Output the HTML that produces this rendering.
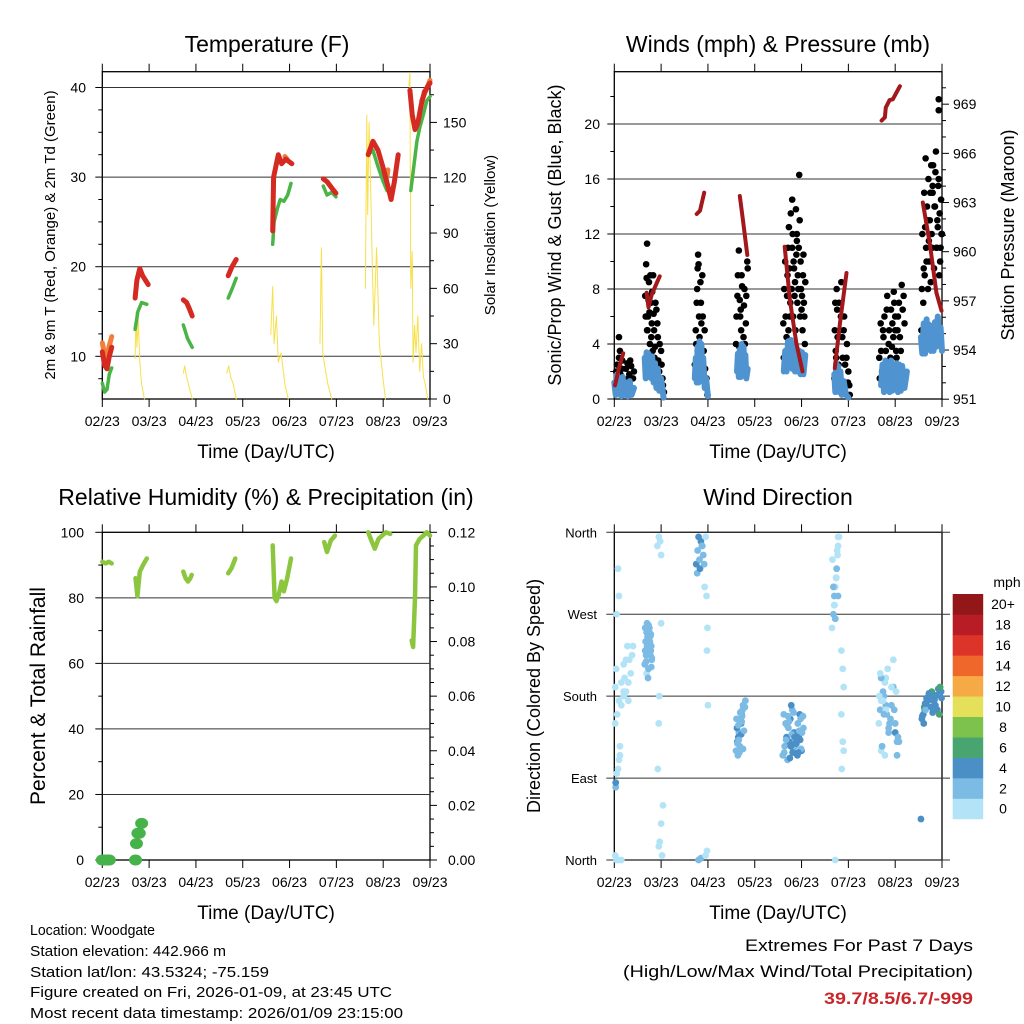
<!DOCTYPE html>
<html><head><meta charset="utf-8"><style>
html,body{margin:0;padding:0;background:#fff}
svg{display:block;font-family:"Liberation Sans",sans-serif}
</style></head><body>
<svg id="c" width="1024" height="1024" viewBox="0 0 1024 1024" xmlns="http://www.w3.org/2000/svg">
<rect width="1024" height="1024" fill="#fff"/>
<text x="267" y="52" font-size="23" text-anchor="middle">Temperature (F)</text>
<text x="778" y="52" font-size="23" text-anchor="middle">Winds (mph) &amp; Pressure (mb)</text>
<text x="266" y="505" font-size="23" text-anchor="middle">Relative Humidity (%) &amp; Precipitation (in)</text>
<text x="778" y="505" font-size="23" text-anchor="middle">Wind Direction</text>
<text x="266" y="458" font-size="19" text-anchor="middle">Time (Day/UTC)</text>
<text x="778" y="458" font-size="19" text-anchor="middle">Time (Day/UTC)</text>
<text x="266" y="919" font-size="19" text-anchor="middle">Time (Day/UTC)</text>
<text x="778" y="919" font-size="19" text-anchor="middle">Time (Day/UTC)</text>
<text transform="translate(55,235) rotate(-90)" font-size="15" text-anchor="middle">2m &amp; 9m T (Red, Orange) &amp; 2m Td (Green)</text>
<text transform="translate(495,235) rotate(-90)" font-size="15" text-anchor="middle">Solar Insolation (Yellow)</text>
<text transform="translate(561,235) rotate(-90)" font-size="18" text-anchor="middle">Sonic/Prop Wind &amp; Gust (Blue, Black)</text>
<text transform="translate(1014,235) rotate(-90)" font-size="18" text-anchor="middle">Station Pressure (Maroon)</text>
<text transform="translate(45,696) rotate(-90)" font-size="21" text-anchor="middle">Percent &amp; Total Rainfall</text>
<text transform="translate(540,696) rotate(-90)" font-size="18" text-anchor="middle">Direction (Colored By Speed)</text>
<g font-size="15">
<text x="30" y="935" textLength="125" lengthAdjust="spacingAndGlyphs">Location: Woodgate</text>
<text x="30" y="956" textLength="196" lengthAdjust="spacingAndGlyphs">Station elevation: 442.966 m</text>
<text x="30" y="977" textLength="239" lengthAdjust="spacingAndGlyphs">Station lat/lon: 43.5324; -75.159</text>
<text x="30" y="997" textLength="362" lengthAdjust="spacingAndGlyphs">Figure created on Fri, 2026-01-09, at 23:45 UTC</text>
<text x="30" y="1018" textLength="373" lengthAdjust="spacingAndGlyphs">Most recent data timestamp: 2026/01/09 23:15:00</text>
</g>
<text x="973" y="951" font-size="17" text-anchor="end" textLength="228" lengthAdjust="spacingAndGlyphs">Extremes For Past 7 Days</text>
<text x="973" y="977" font-size="17" text-anchor="end" textLength="350" lengthAdjust="spacingAndGlyphs">(High/Low/Max Wind/Total Precipitation)</text>
<text x="973" y="1004" font-size="17" font-weight="bold" fill="#c8262b" text-anchor="end" textLength="149" lengthAdjust="spacingAndGlyphs">39.7/8.5/6.7/-999</text>
</svg>
<script>
// ---------- data (t = days since 02/23 00Z) ----------
const dayLabels=["02/23","03/23","04/23","05/23","06/23","07/23","08/23","09/23"];
const tempTicks=[10,20,30,40];
const solarTicks=[0,30,60,90,120,150];
const windTicks=[0,4,8,12,16,20];
const presTicks=[951,954,957,960,963,966,969];
const rhTicks=[0,20,40,60,80,100];
const rainTicks=["0.00","0.02","0.04","0.06","0.08","0.10","0.12"];
const dirLabels=["North","East","South","West","North"];
const speedLabels=["0","2","4","6","8","10","12","14","16","18","20+"];

const t2mSegs=[
 [[0,10.5],[0.05,9],[0.1,8.6],[0.15,10],[0.2,11]],
 [[0.7,16.5],[0.74,18.5],[0.8,19.8],[0.86,19],[0.92,18.5],[0.98,18]],
 [[1.73,16.3],[1.8,16],[1.86,15.3],[1.92,14.5]],
 [[2.69,19],[2.77,20],[2.86,20.8]],
 [[3.64,24],[3.66,30],[3.7,31],[3.76,32.5],[3.83,31.5],[3.92,32],[4.05,31.5]],
 [[4.72,29.8],[4.8,29.5],[4.9,28.8],[4.99,28.2]],
 [[5.68,32.5],[5.78,34],[5.89,33],[6.0,31],[6.1,29],[6.17,27.5],[6.24,29.5],[6.32,32.5]],
 [[6.57,39.7],[6.62,37],[6.68,35.3],[6.74,36],[6.81,38],[6.88,39.5],[7.0,40.5]]
];
const t9mSegs=[
 [[0,11.5],[0.08,9.5],[0.14,11],[0.2,12.2]],
 [[6.82,38.5],[6.9,39.5],[7.0,40.8]],
 [[6.08,30],[6.1,30.8]],
 [[3.9,32.3],[3.95,32]]
];
const tdSegs=[
 [[0,7],[0.05,6],[0.1,6.3],[0.15,8],[0.2,8.7]],
 [[0.7,13],[0.76,15],[0.84,16],[0.95,15.8]],
 [[1.73,13.5],[1.82,12],[1.92,11]],
 [[2.69,16.5],[2.77,17.5],[2.86,18.7]],
 [[3.64,22.5],[3.67,25],[3.74,26.5],[3.8,27.5],[3.88,27.3],[3.96,28],[4.03,29.3]],
 [[4.72,29],[4.8,28],[4.9,28.3],[4.99,27.8]],
 [[5.68,32.5],[5.78,33],[5.9,31],[6.0,29.5],[6.08,28.5]],
 [[6.59,28.5],[6.65,31],[6.72,34],[6.78,35.5],[6.86,37],[6.93,38.5],[7.0,39]]
];
const solarSegs=[
 [[0.7,22],[0.72,47],[0.74,28],[0.77,43],[0.8,20],[0.84,8],[0.9,0]],
 [[1.73,14],[1.76,18],[1.8,12],[1.86,6],[1.92,0]],
 [[2.66,14],[2.7,18],[2.74,12],[2.8,8],[2.86,0]],
 [[3.6,35],[3.64,61],[3.67,30],[3.72,45],[3.76,20],[3.82,25],[3.9,8],[3.97,0]],
 [[4.65,30],[4.68,82],[4.71,25],[4.75,18],[4.82,8],[4.9,0]],
 [[5.62,60],[5.65,154],[5.67,100],[5.7,150],[5.73,120],[5.77,70],[5.8,40],[5.86,82],[5.92,30],[6.0,10],[6.05,0]],
 [[6.55,170],[6.57,177],[6.59,60],[6.62,80],[6.64,20],[6.67,40],[6.7,25],[6.74,45],[6.78,15],[6.82,30],[6.86,12],[6.9,8],[6.95,0]]
];
const presSegs=[
 [[0.015,951.85],[0.1,952.9],[0.19,953.8]],
 [[0.69,957.5],[0.73,956.6],[0.8,957.4],[0.97,958.5]],
 [[1.76,962.3],[1.83,962.5],[1.92,963.6]],
 [[2.68,963.4],[2.75,961.9],[2.84,959.8]],
 [[3.64,960.3],[3.75,957.05],[3.89,954.4],[4.02,952.7]],
 [[4.71,952.9],[4.82,955.6],[4.96,958.7]],
 [[5.71,968.0],[5.78,968.2],[5.8,968.8],[5.88,969.25],[5.95,969.3],[6.1,970.1]],
 [[6.59,963.0],[6.74,960.5],[6.88,957.5],[6.99,956.4]]
];
const windSegs=[
 [[0.0,1.2],[0.03,0.3],[0.06,1.8],[0.09,0.4],[0.12,1.5],[0.15,0.2],[0.18,1.6],[0.21,0.3],[0.25,1.2],[0.29,0.2],[0.33,1.3],[0.37,0.3],[0.42,0.8]],
 [[0.65,3],[0.67,1.5],[0.69,3.4],[0.71,1.6],[0.73,3.3],[0.75,1.8],[0.77,3],[0.79,1.5],[0.81,3.1],[0.84,1.2],[0.87,2.6],[0.9,0.8],[0.93,2.2],[0.96,0.6],[1.0,1.5],[1.05,0.1]],
 [[1.72,1.5],[1.74,3],[1.76,1.2],[1.78,3.8],[1.8,1.2],[1.82,4.2],[1.84,1.8],[1.86,4],[1.88,1.5],[1.9,3],[1.93,0.8],[1.96,1.5],[2.0,0.2]],
 [[2.62,2],[2.64,3.3],[2.66,1.6],[2.68,3.6],[2.7,1.6],[2.72,4],[2.74,2.2],[2.76,3.8],[2.78,2.2],[2.8,3.2],[2.82,1.5],[2.85,2.2]],
 [[3.62,2],[3.65,3.5],[3.68,2],[3.71,4.2],[3.74,2.5],[3.77,4.3],[3.8,2.2],[3.83,4],[3.86,2],[3.89,3.8],[3.92,2],[3.95,3.5],[3.98,1.8],[4.01,3.4],[4.04,1.8],[4.08,3.2]],
 [[4.7,1.8],[4.72,0.5],[4.74,2.6],[4.76,0.8],[4.78,2.4],[4.8,0.5],[4.83,2],[4.86,0.3],[4.9,1.3],[4.95,0.3],[5.0,0.1]],
 [[5.7,1],[5.73,2.5],[5.76,0.5],[5.79,2.8],[5.82,0.8],[5.85,2.5],[5.88,0.5],[5.91,2.8],[5.94,0.6],[5.97,2.4],[6.0,0.8],[6.03,2.6],[6.06,0.5],[6.09,2.5],[6.12,0.6],[6.15,2.4],[6.2,0.8],[6.25,2]],
 [[6.55,4.5],[6.58,3.3],[6.61,5.5],[6.64,3.3],[6.67,5.8],[6.7,3.8],[6.73,5.4],[6.76,3.5],[6.79,5.2],[6.82,3.5],[6.85,5.6],[6.88,3.8],[6.91,6],[6.94,4],[6.97,5.2],[7.0,3.5]]
];
const gustT=[0.02,0.06,0.1,0.13,0.17,0.2,0.25,0.3,0.34,0.38,0.42,0.1,
 0.04,0.08,0.12,0.16,0.22,0.28,0.32,0.36,0.4,
 0.66,0.68,0.7,0.72,0.74,0.76,0.78,0.8,0.83,0.86,0.9,0.93,0.96,1.0,1.03,1.06,0.7,0.75,
 0.67,0.69,0.71,0.73,0.75,0.77,0.79,0.81,0.82,0.84,0.85,0.87,0.88,0.9,0.92,0.94,0.97,0.99,1.01,1.04,
 1.72,1.75,1.77,1.79,1.81,1.83,1.85,1.88,1.9,1.93,1.96,1.99,1.78,
 1.74,1.76,1.78,1.8,1.82,1.84,1.86,1.87,1.89,1.91,1.94,1.97,
 2.6,2.63,2.66,2.69,2.72,2.75,2.78,2.81,2.84,2.7,2.76,
 2.61,2.64,2.67,2.68,2.71,2.73,2.77,2.79,2.82,2.85,
 3.62,3.66,3.7,3.73,3.76,3.8,3.83,3.87,3.9,3.93,3.96,4.0,4.03,4.07,3.95,3.9,3.86,3.8,3.72,4.05,
 3.61,3.63,3.65,3.68,3.69,3.71,3.74,3.75,3.77,3.79,3.81,3.82,3.84,3.85,3.88,3.89,3.91,3.92,3.94,3.97,3.98,3.99,4.01,4.02,4.04,4.06,4.08,
 4.7,4.73,4.76,4.79,4.82,4.85,4.88,4.91,4.94,4.97,5.0,5.03,4.72,
 4.71,4.74,4.75,4.77,4.8,4.81,4.84,4.87,4.9,4.93,4.96,4.99,5.02,
 5.67,5.7,5.74,5.78,5.82,5.86,5.9,5.94,5.98,6.02,6.06,6.1,6.14,6.18,6.0,5.85,
 5.66,5.69,5.72,5.75,5.77,5.8,5.83,5.87,5.88,5.91,5.93,5.96,5.97,6.0,6.03,6.05,6.08,6.12,6.16,6.2,
 6.56,6.6,6.63,6.66,6.69,6.72,6.75,6.78,6.81,6.84,6.87,6.9,6.93,6.96,6.99,6.93,6.93,6.7,6.8,6.88,
 6.57,6.58,6.61,6.62,6.64,6.65,6.67,6.68,6.71,6.72,6.74,6.76,6.77,6.79,6.8,6.83,6.85,6.86,6.89,6.91,6.92,6.94,6.95,6.97,6.98,7.0];
const gustV=[1.2,2.5,4.5,1.8,2.8,1,2.2,1.5,2.8,0.8,2,3,
 2,1,3.5,2.2,1.2,2.6,1.8,2.4,1.5,
 7.5,9.8,11.3,6,8.5,4,7,5.5,9,3,6.5,4.5,2,3.5,1.5,0.5,5,7.5,
 6,8.8,5,7.2,6.3,9,4.5,7.8,3.5,6.2,5,3.8,7,2.5,5.5,2.8,4,1.2,2.5,1,
 2.5,4,8,10.5,6,3,7,9,2,5,1,0.3,9.5,
 5,7,3.5,9.8,4.5,8.5,5.5,2.5,6,3.5,2.2,1.5,
 4,7.5,10.8,6,9,3.5,8,5.5,10,6.5,4.5,
 6,9,3.8,7.2,5,8.2,6.8,4,7.5,9.5,
 3,6,9,12.5,7,14.5,10,5,11.5,8,13,6.5,9,4,16.3,12,8.5,11,5,7,
 5.5,8,10,4.5,7.5,11,9.5,6,13.5,8,12,6,9.5,7.5,13.8,10.5,7,9,11,6,10,8,7.5,5,10.5,6,8.5,
 1.5,3.5,6.5,2.5,5,8.5,3,6,1,4,2,0.3,7,
 5,3,8,4.5,7,2,6,4.5,5,2.5,3,1.2,1,
 1.5,3.5,5,2.5,6.5,4,3,5.5,7,3.5,6,4.5,8.3,7.5,5,2,
 3,5.5,2,4.5,6,3.5,7.5,5,2.8,6.5,3.8,4.5,7.8,6,3,5,7,3.5,6.5,5.5,
 5,7,9,11,13,10,15,12,17,14,18,13,16,10,12,21.8,21,8,15.5,11,
 8,12,9.5,15,12.5,17.5,10,14,16,11.5,13,8.5,17,11,15,9.5,14,16.5,11,12.5,15.5,9,13.5,11,14.5,12];
const rhSegs=[
 [[0,91],[0.07,90.5],[0.14,91],[0.2,90.5]],
 [[0.71,86],[0.75,80.5],[0.8,88],[0.87,90],[0.95,92]],
 [[1.73,88],[1.78,86],[1.83,85],[1.88,86],[1.91,87]],
 [[2.69,87.5],[2.76,89],[2.84,92]],
 [[3.64,96],[3.68,80],[3.72,79],[3.77,81],[3.83,85],[3.88,82],[3.95,86],[4.03,92]],
 [[4.74,97],[4.8,94],[4.88,97.5],[4.97,99]],
 [[5.68,100],[5.76,97],[5.82,95],[5.9,98],[5.98,99],[6.06,100],[6.15,99.5]],
 [[6.61,67],[6.64,65],[6.68,80],[6.7,96],[6.78,98],[6.86,99],[6.93,100],[7.0,99]]
];
const rainT=[0,0.05,0.1,0.15,0.71,0.73,0.76,0.79,0.84];
const rainV=[0,0,0,0,0,0.006,0.0098,0.0098,0.0134];
const dirT=[0.02,0.05,0.1,0.15,0.03,0.05,0.08,0.1,0.12,0.02,0.06,0.1,0.15,0.2,0.25,0.3,0.35,0.32,0.38,0.4,0.2,0.25,0.05,0.1,0.08,0.2,0.15,0.3,0.02,0.04,0.03,0.12,0.22,0.28,
 0.65,0.68,0.7,0.72,0.74,0.76,0.78,0.8,0.66,0.7,0.75,0.69,0.73,0.77,0.71,0.79,0.72,0.92,0.95,0.98,1.0,0.95,1.02,0.97,1.0,1.04,0.93,0.95,0.96,1.0,
 0.67,0.69,0.71,0.73,0.75,0.77,0.79,0.68,0.72,0.76,0.7,0.74,0.78,0.66,0.8,
 1.75,1.78,1.8,1.82,1.85,1.88,1.9,1.93,1.95,1.77,1.83,1.87,1.92,1.8,1.97,1.99,1.98,2.0,1.85,1.95,1.98,
 2.6,2.63,2.66,2.69,2.72,2.75,2.62,2.68,2.74,2.65,2.7,2.8,2.64,2.71,
 2.61,2.63,2.65,2.67,2.69,2.71,2.73,2.75,2.77,2.79,2.66,2.72,
 3.6,3.64,3.68,3.72,3.76,3.8,3.84,3.88,3.92,3.96,4.0,4.04,3.7,3.78,3.86,3.94,3.66,3.82,3.9,3.62,3.74,3.98,
 3.63,3.67,3.71,3.75,3.79,3.83,3.87,3.91,3.95,3.99,4.03,3.69,3.77,3.85,3.93,4.01,3.73,3.81,3.89,3.97,
 4.65,4.68,4.7,4.72,4.75,4.78,4.8,4.7,4.74,4.77,4.72,4.85,4.88,4.9,4.85,4.88,4.9,4.86,4.72,4.78,
 4.66,4.68,4.7,4.72,4.74,4.76,4.78,
 5.65,5.68,5.7,5.74,5.78,5.82,5.86,5.7,5.76,5.8,5.84,5.88,5.92,5.96,6.0,6.04,5.72,5.78,5.9,5.98,5.8,6.02,6.06,
 5.66,5.7,5.74,5.8,5.86,5.92,5.96,6.0,6.04,6.08,5.68,5.76,
 6.57,6.6,6.63,6.66,6.7,6.74,6.78,6.82,6.86,6.9,6.94,6.98,6.62,6.68,6.75,6.65,6.95,6.55,
 6.58,6.61,6.64,6.67,6.72,6.77,6.8,6.84,6.88,6.92,6.96,6.99];
const dirD=[5,0,0,0,80,95,100,110,125,150,160,175,170,180,185,195,205,220,225,235,215,220,270,290,320,185,195,175,190,210,85,115,200,235,
 215,225,235,245,250,240,230,220,255,260,255,205,210,225,245,235,200,345,355,350,335,15,5,20,40,60,100,150,180,260,
 240,250,232,258,228,246,212,218,242,236,226,252,248,230,222,
 325,340,355,330,350,345,335,300,355,315,320,345,325,0,290,255,230,170,2,5,10,
 120,130,140,150,160,170,145,125,165,135,155,175,115,150,
 155,128,148,118,162,138,158,122,142,168,132,152,
 115,125,135,145,155,165,140,130,150,160,120,145,110,170,125,135,150,120,140,160,130,155,
 118,132,158,112,138,162,128,115,142,122,158,148,125,135,118,140,152,118,128,132,
 255,270,290,300,320,345,355,280,310,335,265,230,210,190,160,130,120,100,0,355,
 330,300,280,265,310,340,290,
 150,165,175,185,195,160,140,120,180,200,210,150,170,190,140,130,125,115,155,165,170,185,135,
 180,200,175,165,145,190,220,150,115,130,205,160,
 155,160,165,170,175,180,185,175,170,165,160,185,168,175,180,165,187,45,
 158,150,172,178,183,168,162,176,181,188,190,178];
const dirS=[1,1,1,1,3,1,1,1,1,1,1,1,1,1,1,1,1,1,1,1,1,1,1,1,1,1,1,1,1,1,4,1,1,1,
 2,3,2,2,3,2,2,2,2,2,2,1,2,3,2,2,2,1,1,1,1,1,1,1,1,1,1,1,1,1,
 2,3,2,2,3,2,2,2,3,2,2,2,3,2,2,
 4,3,4,2,5,3,2,1,1,3,4,2,3,2,1,1,1,1,2,1,1,
 3,4,3,2,4,3,5,3,2,4,3,2,3,4,
 2,3,2,3,2,4,2,3,2,2,3,2,
 3,2,4,3,5,2,4,3,2,5,4,2,3,4,3,5,2,3,4,3,5,2,
 2,3,2,4,3,2,4,5,3,2,3,2,4,5,4,3,2,5,4,5,
 1,2,2,1,3,1,1,2,3,1,2,1,1,1,1,1,1,1,1,1,
 1,2,1,2,1,1,2,
 1,2,1,2,1,2,3,1,2,1,1,2,3,2,4,3,2,1,2,3,2,1,3,
 1,2,1,1,2,1,1,2,3,2,1,2,
 5,4,5,4,5,5,6,5,4,5,7,5,7,5,4,3,4,5,
 4,5,4,5,5,4,5,4,5,5,6,4];

// ---------- helpers ----------
const NS='http://www.w3.org/2000/svg';
const svg=document.getElementById('c');
function el(tag,attrs,parent){const e=document.createElementNS(NS,tag);for(const k in attrs)e.setAttribute(k,attrs[k]);(parent||svg).appendChild(e);return e;}
const speedColors=['#b3e3f7','#7cbbe4','#4a8fc6','#48a56f','#7dc24c','#e5e05a','#f6aa46','#f0672b','#dc3428','#b81c25','#931619'];

const X0=102.3,X1=430,XR0=614.3,XR1=942;
function xL(t){return X0+t*(X1-X0)/7;}
function xR(t){return XR0+t*(XR1-XR0)/7;}
const yTemp=v=>356.3-(v-10)*8.96;
const ySolar=v=>399-v*1.844;
const yWind=v=>399-v*13.75;
const yPres=v=>399.2-(v-951)*16.39;
const yRH=v=>860-v*3.277;
const yRain=v=>860-v/0.12*327.7;
const yDir=v=>860-v/360*327.7;

function frame(x0,x1,y0,y1,name,xs){
  const g=el('g',{});
  
  
  for(let i=0;i<8;i++){
    const x=xs(i);
    const tk=el('line',{x1:x,x2:x,y1:y0-8,y2:y0,stroke:'#000','stroke-width':1},g);
    
    
    const tb=el('line',{x1:x,x2:x,y1:y1,y2:y1+8,stroke:'#000','stroke-width':1},g);
    
    
    const lb=el('text',{x:x,y:y1+27,'font-size':14,'text-anchor':'middle'},g);
    lb.textContent=dayLabels[i];
    
    
  }
  const r=el('rect',{x:x0,y:y0,width:x1-x0,height:y1-y0,fill:'none',stroke:'#000','stroke-width':1.3},g);
  
  
  return g;
}
function grid(x0,x1,y,ext){
  const l=el('line',{x1:x0-ext,x2:x1+ext,y1:y,y2:y,stroke:'#333','stroke-width':1});
  
  
}
function tickLabel(x,y,txt,anchor,size){
  const t=el('text',{x:x,y:y+5,'font-size':size||14,'text-anchor':anchor});
  t.textContent=txt;
  
  
}
function yTick(x,y,len){
  const l=el('line',{x1:x,x2:x+len,y1:y,y2:y,stroke:'#000','stroke-width':1});
  
  
}
function drawSeg(pts,xf,yf,color,w,name){
  const p=el('polyline',{points:pts.map(d=>xf(d[0]).toFixed(1)+','+yf(d[1]).toFixed(1)).join(' '),fill:'none',stroke:color,'stroke-width':w,'stroke-linejoin':'round','stroke-linecap':'round'});
  
  
}

// ---------- Panel 1: temperature ----------
frame(X0,X1,71.7,399,'temperature-plot',i=>xL(i));
tempTicks.forEach(v=>{grid(X0,X1,yTemp(v),0);yTick(X0-7,yTemp(v),7);tickLabel(86,yTemp(v),String(v),'end');});
[7.5,12.5,15,17.5,22.5,25,27.5,32.5,35,37.5].forEach(v=>yTick(X0-4,yTemp(v),4));
solarTicks.forEach(v=>{yTick(X1,ySolar(v),7);tickLabel(443,ySolar(v),String(v),'start');});
[15,45,75,105,135,165].forEach(v=>yTick(X1,ySolar(v),4));
solarSegs.forEach(s=>drawSeg(s,xL,ySolar,'#f7e04a',1,'solar-insolation-line'));
tdSegs.forEach(s=>drawSeg(s,xL,yTemp,'#4bb446',3.5,'dewpoint-line'));
t9mSegs.forEach(s=>drawSeg(s,xL,yTemp,'#f07f3a',5,'temp-9m-line'));
t2mSegs.forEach(s=>drawSeg(s,xL,yTemp,'#d42a22',5,'temp-2m-line'));

// ---------- Panel 2: winds ----------
frame(XR0,XR1,71.7,399,'winds-plot',i=>xR(i));
windTicks.forEach(v=>{if(v>0)grid(XR0,XR1,yWind(v),0);yTick(XR0-7,yWind(v),7);tickLabel(600,yWind(v),String(v),'end');});
[2,6,10,14,18,22].forEach(v=>yTick(XR0-4,yWind(v),4));
presTicks.forEach(v=>{yTick(XR1,yPres(v),7);tickLabel(953,yPres(v),String(v),'start');});
[952,953,955,956,958,959,961,962,964,965,967,968,970].forEach(v=>yTick(XR1,yPres(v),4));
gustT.forEach((t,i)=>{
  const c=el('circle',{cx:xR(t),cy:yWind(gustV[i]),r:3.3,fill:'#000'});
  
  
});
windSegs.forEach(s=>drawSeg(s,xR,yWind,'#4f94d0',6,'wind-speed-line'));
presSegs.forEach(s=>drawSeg(s,xR,yPres,'#a3181b',4,'pressure-line'));

// ---------- Panel 3: RH & rain ----------
frame(X0,X1,532.3,860,'humidity-plot',i=>xL(i));
rhTicks.forEach(v=>{if(v>0&&v<100)grid(X0,X1,yRH(v),0);yTick(X0-7,yRH(v),7);tickLabel(84,yRH(v),String(v),'end');});
[10,30,50,70,90].forEach(v=>yTick(X0-4,yRH(v),4));
rainTicks.forEach(v=>{const y=yRain(parseFloat(v));yTick(X1,y,7);tickLabel(448,y,v,'start');});
[0.005,0.01,0.015,0.025,0.03,0.035,0.045,0.05,0.055,0.065,0.07,0.075,0.085,0.09,0.095,0.105,0.11,0.115].forEach(v=>yTick(X1,yRain(v),4));
rhSegs.forEach(s=>drawSeg(s,xL,yRH,'#8cc63f',4.5,'rh-line'));
rainT.forEach((t,i)=>{
  const c=el('ellipse',{cx:xL(t),cy:yRain(rainV[i]),rx:6.5,ry:5.5,fill:'#45b34a'});
  
  
});

// ---------- Panel 4: wind direction ----------
frame(XR0,XR1,532.3,860,'direction-plot',i=>xR(i));
[0,90,180,270,360].forEach((v,i)=>{grid(XR0,XR1,yDir(v),8);tickLabel(597,yDir(v),dirLabels[i],'end',13);});
dirT.forEach((t,i)=>{
  const c=el('circle',{cx:xR(t),cy:yDir(dirD[i]),r:3.4,fill:speedColors[Math.min(10,Math.floor(dirS[i]/2))]});
  
  
});
// colorbar
const cbTop=594,cbH=20.45;
speedLabels.forEach((lab,i)=>{
  const y=cbTop+(10-i)*cbH;
  const r=el('rect',{x:952.7,y:y,width:30.5,height:cbH+0.3,fill:speedColors[i]});
  
  
  const t=el('text',{x:1003,y:y+cbH/2+5,'font-size':14,'text-anchor':'middle'});
  t.textContent=lab;
  
  
});
const mph=el('text',{x:1007,y:587,'font-size':14,'text-anchor':'middle'});
mph.textContent='mph';


</script>
</body></html>
